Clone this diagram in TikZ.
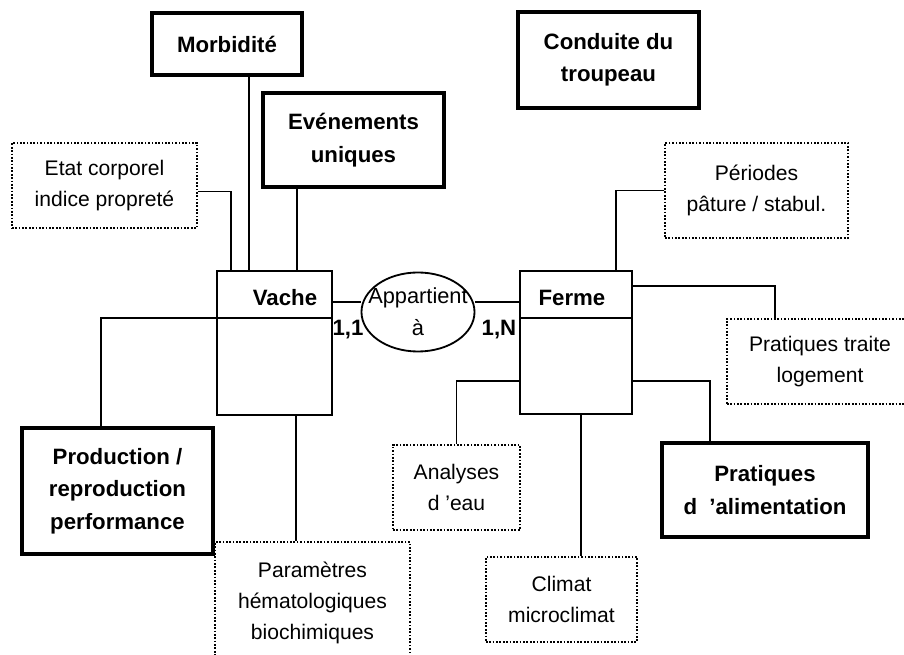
\documentclass[tikz,border=0pt]{standalone}
\usepackage{fontspec}
\setmainfont{Liberation Sans}
\usepackage{tikz}
\usetikzlibrary{shapes,positioning,calc}

\begin{document}
\begin{tikzpicture}[
    x=0.025cm, y=-0.025cm,
    strong/.style={rectangle, draw, line width=2.8pt, font=\bfseries\fontsize{15.8}{23}\selectfont, align=center},
    attr/.style={rectangle, draw, line width=1pt, dash pattern=on 1.2pt off 1.2pt, font=\fontsize{15}{22}\selectfont, align=center},
    entity/.style={rectangle, draw, line width=1.4pt},
    relation/.style={ellipse, draw, line width=1.3pt, inner sep=0pt},
    link/.style={line width=1.3pt},
    ename/.style={font=\bfseries\fontsize{15.8}{18}\selectfont},
    rname/.style={font=\fontsize{15.5}{22.5}\selectfont, align=center, inner sep=0pt}
]
\useasboundingbox (0,0) rectangle (904,655);
% attributes of the cow
\node[strong, minimum width=3.75cm, minimum height=1.55cm] (morb) at (227,44) {Morbidité};
\node[strong, minimum width=4.525cm, minimum height=2.35cm] (even) at (353.5,140) {Evénements\\uniques};
\node[attr, minimum width=4.625cm, minimum height=2.125cm] (etat) at (104.5,185.5) {Etat corporel\\indice propreté};
\node[strong, minimum width=4.775cm, minimum height=3.15cm] (prod) at (117.5,491) {Production /\\reproduction\\performance};
\node[attr, minimum width=4.875cm, minimum height=3.05cm] (param) at (312.5,603) {Paramètres\\hématologiques\\biochimiques};
% attributes of the farm
\node[strong, minimum width=4.525cm, minimum height=2.4cm] (cond) at (608.5,60) {Conduite du\\troupeau};
\node[attr, minimum width=4.575cm, minimum height=2.375cm] (peri) at (756.5,190.5) {Périodes\\pâture / stabul.};
\node[attr, minimum width=4.65cm, minimum height=2.125cm] (trait) at (820,361.5) {Pratiques traite\\logement};
\node[strong, minimum width=5.15cm, minimum height=2.35cm] (alim) at (765,490) {Pratiques\\d\hspace{0.55em}'alimentation};
\node[attr, minimum width=3.175cm, minimum height=2.125cm] (analy) at (456.5,487.5) {Analyses\\d 'eau};
\node[attr, minimum width=3.775cm, minimum height=2.125cm] (clim) at (561.5,599.5) {Climat\\microclimat};
% entities and relation
\node[entity, minimum width=2.875cm, minimum height=3.6cm] (vache) at (274.5,343) {};
\node[entity, minimum width=2.8cm, minimum height=3.575cm] (ferme) at (576,342.5) {};
\node[relation, minimum width=2.825cm, minimum height=1.975cm] (app) at (418,312) {};
\node[rname] (appname) at (app.center) {Appartient\\à};
\node[ename] (vname) at (285,298) {Vache};
\node[ename] (fname) at (572,298) {Ferme};
\node[ename] (c11) at (348,330) {1,1};
\node[ename] (c1n) at (499,330) {1,N};
\draw[entity] ($(vache.north west)+(0,48)$) -- ($(vache.north east)+(0,48)$);
\draw[entity] ($(ferme.north west)+(0,48)$) -- ($(ferme.north east)+(0,48)$);
% links
\coordinate (vmorb) at ($(vache.north west)+(33,0)$);
\coordinate (veven) at ($(vache.north west)+(81,0)$);
\coordinate (vparam) at ($(vache.south west)+(80,0)$);
\coordinate (vapp) at ($(vache.north east)+(0,32)$);
\coordinate (fapp) at ($(ferme.north west)+(0,32)$);
\coordinate (fclim) at ($(ferme.south west)+(62,0)$);
\draw[link] ($(etat.east)+(0,6)$) -| ($(vache.north west)+(15,0)$);
\draw[link] (morb.south -| vmorb) -- (vmorb);
\draw[link] (even.south -| veven) -- (veven);
\draw[link] ($(vache.north west)+(0,48)$) -| ($(prod.north west)+(81,0)$);
\draw[link] (vparam) -- (param.north -| vparam);
\draw[link] (vapp) -- (app.west |- vapp);
\draw[link] (app.east |- fapp) -- (fapp);
\draw[link] (peri.west) -| ($(ferme.north west)+(97,0)$);
\draw[link] ($(ferme.north east)+(0,16)$) -| ($(trait.north west)+(49,0)$);
\draw[link] ($(ferme.north east)+(0,111)$) -| ($(alim.north west)+(50,0)$);
\draw[link] ($(ferme.north west)+(0,111)$) -| (analy.north);
\draw[link] (fclim) -- (clim.north -| fclim);
\end{tikzpicture}
\end{document}
